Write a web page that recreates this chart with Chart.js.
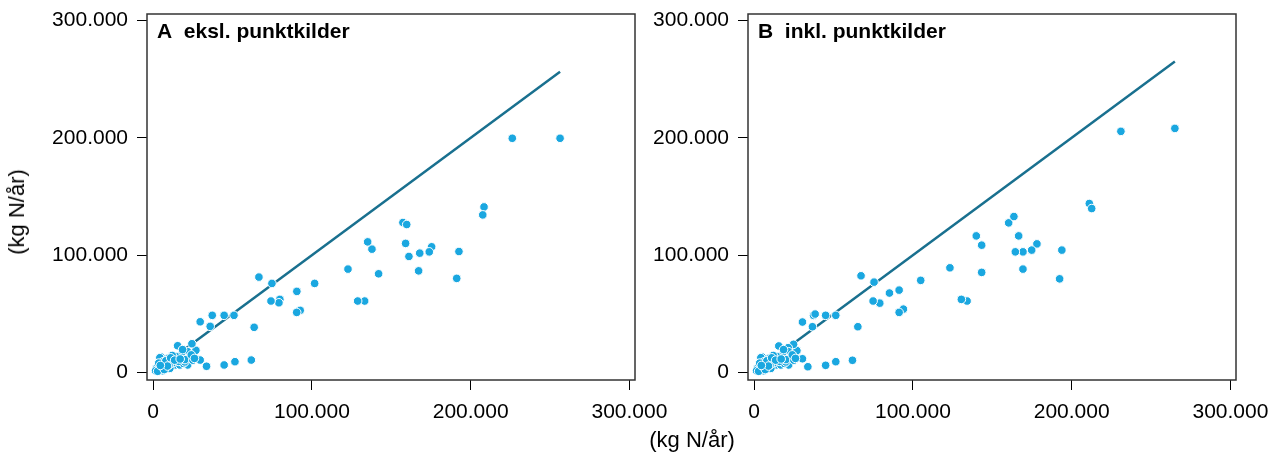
<!DOCTYPE html>
<html>
<head>
<meta charset="utf-8">
<script src="https://cdn.jsdelivr.net/npm/chart.js@4.4.1/dist/chart.umd.min.js"></script>
<style>
  html, body { margin: 0; padding: 0; background: #fff; }
  body { width: 1280px; height: 456px; position: relative; overflow: hidden; font-family: 'Liberation Sans', Arial, sans-serif; color: #000; }
  canvas { position: absolute; top: 0; }
  #chartA { left: 0; }
  #chartB { left: 600px; }
  .axis-title { position: absolute; font-size: 22px; white-space: nowrap; }
  .y-title { left: 17px; top: 212px; transform: translate(-50%, -50%) rotate(-90deg); }
  .x-title { left: 692px; top: 440px; transform: translate(-50%, -50%); }
</style>
</head>
<body>
<canvas id="chartA" width="700" height="456"></canvas>
<canvas id="chartB" width="680" height="456"></canvas>
<div class="axis-title y-title">(kg N/år)</div>
<div class="axis-title x-title">(kg N/år)</div>
<script>
// Tick values shared by both panels
const axisTicks = [0, 100000, 200000, 300000];

// Panel A: ekskl. punktkilder
const xA = [256300, 226200, 208400, 207600, 192600, 191200, 175400, 173900, 167900, 167200,
  161100, 159000, 157300, 159700, 142000, 137800, 135100, 133200, 128800, 122700,
  101700, 92600, 90400, 90500, 79800, 79200, 74200, 74800, 66600, 63600,
  61800, 51500, 44700, 33600, 29600, 50900, 44700, 37200, 35900, 29600,
  26900, 24400, 15400, 4900, 21700, 4200, 6300, 11600, 15800, 17900,
  21700, 21700, 3100, 2100, 7400, 13700, 16800, 9500, 18900, 5200,
  10500, 19900, 8500, 12500, 14500, 23500, 1500, 6000, 10000, 20000,
  25000, 24000, 18500, 12000, 3500, 16000, 8000, 26000, 2800, 7000,
  11000, 13500, 17000, 9000, 4500];
const yA = [199600, 199600, 141100, 134300, 103100, 80200, 107100, 102800, 101700, 86600,
  98900, 110000, 127800, 126100, 84100, 105100, 111300, 60900, 60900, 88100,
  75900, 52900, 51200, 69100, 62300, 59400, 60900, 75900, 81300, 38500,
  10600, 9200, 6400, 5300, 10600, 48700, 48700, 48700, 39300, 43200,
  18900, 24500, 22800, 13200, 17700, 12600, 9200, 10600, 12100, 14900,
  12100, 6400, 4900, 3500, 4900, 6400, 6400, 12100, 7800, 3500,
  3500, 9000, 7500, 8500, 13500, 13500, 1500, 1500, 6500, 11000,
  10500, 15000, 19500, 14500, 8000, 9500, 10000, 12000, 1000, 2500,
  12500, 10500, 11500, 5500, 6000];

// Panel B: inkl. punktkilder
const xB = [265000, 231000, 211100, 212600, 193800, 192400, 178100, 174800, 169300, 164500,
  169300, 166600, 160300, 163600, 143300, 143300, 139900, 134100, 130500, 123300,
  104900, 94000, 91300, 91300, 85200, 79100, 74900, 75500, 67300, 65300,
  61900, 51400, 45000, 33800, 30400, 51400, 45000, 37400, 38400, 36700,
  30400, 26900, 24800, 15500, 21400, 5000, 21600, 4200, 6300, 11600,
  15800, 17900, 21700, 21700, 3100, 2100, 7400, 13700, 16800, 9500,
  18900, 5200, 10500, 19900, 8500, 12500, 14500, 23500, 1500, 6000,
  10000, 20000, 25000, 24000, 18500, 12000, 3500, 16000, 8000, 26000, 2800, 7000,
  11000, 13500, 17000, 9000, 4500];
const yB = [208000, 205500, 144000, 139700, 104300, 79800, 109600, 104300, 102800, 102800,
  88100, 116400, 127500, 132900, 85300, 108500, 116400, 60900, 62300, 89200,
  78500, 54000, 51200, 70200, 67700, 59100, 60900, 77000, 82400, 39000,
  10400, 9200, 6100, 4900, 11700, 48700, 48700, 48700, 49800, 39000,
  43000, 18600, 24000, 22600, 21100, 13200, 17700, 12600, 9200, 10600,
  12100, 14900, 12100, 6400, 4900, 3500, 4900, 6400, 6400, 12100,
  7800, 3500, 3500, 9000, 7500, 8500, 13500, 13500, 1500, 1500,
  6500, 11000, 10500, 15000, 19500, 14500, 8000, 9500, 10000, 12000, 1000, 2500,
  12500, 10500, 11500, 5500, 6000];

const FONT = "'Liberation Sans', Arial, sans-serif";
const fmt = v => String(v).replace(/\B(?=(\d{3})+(?!\d))/g, '.');

// Box round the plot area plus the panel label in its top left corner
const framePlugin = {
  id: 'frame',
  afterDraw(chart, args, opts) {
    const { ctx, chartArea: a } = chart;
    ctx.save();
    ctx.strokeStyle = '#333';
    ctx.lineWidth = 1.5;
    ctx.strokeRect(a.left, a.top, a.right - a.left, a.bottom - a.top);
    ctx.fillStyle = '#000';
    ctx.font = `bold 21px ${FONT}`;
    ctx.textBaseline = 'alphabetic';
    ctx.fillText(opts.text, a.left + 10, a.top + 23.5);
    ctx.restore();
  },
};

function createChart(id, label, xs, ys, axisWidth, padRight) {
  const points = xs.map((x, i) => ({ x, y: ys[i] }));
  const lo = Math.min(...xs);
  const hi = Math.max(...xs);

  const tickGrid = { display: true, drawOnChartArea: false, drawTicks: true, tickLength: 10, color: '#000', lineWidth: 1 };
  const tickFont = { size: 21, family: FONT };

  return new Chart(document.getElementById(id), {
    type: 'scatter',
    data: {
      datasets: [
        { type: 'scatter', data: points, backgroundColor: '#1aa7e0', borderColor: '#fff', borderWidth: 1, pointRadius: 4.3 },
        { type: 'line', data: [{ x: lo, y: lo }, { x: hi, y: hi }], borderColor: '#19708f', borderWidth: 2.5, pointRadius: 0, fill: false },
      ],
    },
    options: {
      responsive: false,
      animation: false,
      events: [],
      layout: { padding: { top: 14, left: 0, right: padRight, bottom: 0 } },
      plugins: {
        legend: { display: false },
        tooltip: { enabled: false },
        frame: { text: label },
      },
      scales: {
        x: {
          type: 'linear', min: -3900, max: 303500,
          afterBuildTicks: s => { s.ticks = axisTicks.map(value => ({ value })); },
          afterFit: s => { s.height = 76; s.paddingLeft = 0; s.paddingRight = 0; },
          grid: tickGrid,
          border: { display: false },
          ticks: { padding: 10, font: tickFont, color: '#000', maxRotation: 0, autoSkip: false, callback: fmt },
        },
        y: {
          type: 'linear', min: -6400, max: 305500,
          afterBuildTicks: s => { s.ticks = axisTicks.map(value => ({ value })); },
          afterFit: s => { s.width = axisWidth; s.paddingTop = 0; s.paddingBottom = 0; },
          grid: tickGrid,
          border: { display: false },
          ticks: { padding: 9, font: tickFont, color: '#000', autoSkip: false, callback: fmt },
        },
      },
    },
    plugins: [framePlugin],
  });
}

createChart('chartA', 'A  eksl. punktkilder', xA, yA, 147, 65);
createChart('chartB', 'B  inkl. punktkilder', xB, yB, 148, 44);
</script>
</body>
</html>
